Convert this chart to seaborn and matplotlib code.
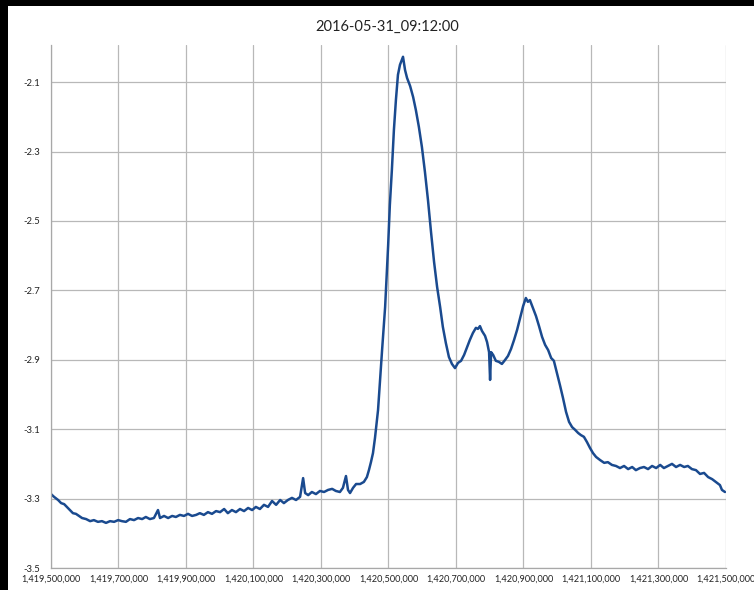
import matplotlib
matplotlib.use("Agg")
import matplotlib.pyplot as plt
import matplotlib.ticker as mticker
from matplotlib.patches import Rectangle
import numpy as np
import pandas as pd
import seaborn as sns

title = "2016-05-31_09:12:00"

freq_mhz = [
    1419.500, 1419.509, 1419.521, 1419.530, 1419.539, 1419.547, 1419.556, 1419.565, 1419.574, 1419.583,
    1419.592, 1419.604, 1419.616, 1419.627, 1419.639, 1419.651, 1419.663, 1419.675, 1419.687, 1419.699,
    1419.710, 1419.722, 1419.734, 1419.746, 1419.758, 1419.770, 1419.781, 1419.793, 1419.805, 1419.817,
    1419.823, 1419.835, 1419.847, 1419.859, 1419.870, 1419.882, 1419.894, 1419.906, 1419.918, 1419.930,
    1419.941, 1419.953, 1419.965, 1419.977, 1419.989, 1420.001, 1420.013, 1420.024, 1420.036, 1420.048,
    1420.060, 1420.072, 1420.084, 1420.096, 1420.107, 1420.119, 1420.131, 1420.143, 1420.155, 1420.167,
    1420.179, 1420.190, 1420.202, 1420.214, 1420.226, 1420.238, 1420.247, 1420.253, 1420.262, 1420.273,
    1420.285, 1420.297, 1420.309, 1420.321, 1420.333, 1420.344, 1420.356, 1420.365, 1420.374, 1420.380,
    1420.386, 1420.395, 1420.404, 1420.416, 1420.427, 1420.436, 1420.442, 1420.448, 1420.454, 1420.460,
    1420.469, 1420.475, 1420.481, 1420.490, 1420.499, 1420.504, 1420.510, 1420.516, 1420.522, 1420.528,
    1420.534, 1420.543, 1420.549, 1420.555, 1420.564, 1420.573, 1420.581, 1420.590, 1420.599, 1420.608,
    1420.617, 1420.626, 1420.635, 1420.644, 1420.653, 1420.661, 1420.670, 1420.679, 1420.688, 1420.697,
    1420.706, 1420.715, 1420.724, 1420.733, 1420.741, 1420.750, 1420.759, 1420.765, 1420.771, 1420.777,
    1420.786, 1420.792, 1420.798, 1420.801, 1420.804, 1420.810, 1420.818, 1420.827, 1420.836, 1420.845,
    1420.854, 1420.863, 1420.872, 1420.881, 1420.890, 1420.899, 1420.907, 1420.913, 1420.919, 1420.928,
    1420.937, 1420.946, 1420.955, 1420.964, 1420.973, 1420.982, 1420.990, 1420.999, 1421.008, 1421.017,
    1421.026, 1421.035, 1421.044, 1421.053, 1421.062, 1421.070, 1421.079, 1421.088, 1421.097, 1421.106,
    1421.115, 1421.127, 1421.139, 1421.150, 1421.162, 1421.174, 1421.186, 1421.198, 1421.210, 1421.222,
    1421.233, 1421.245, 1421.257, 1421.269, 1421.281, 1421.293, 1421.305, 1421.316, 1421.328, 1421.340,
    1421.352, 1421.364, 1421.376, 1421.387, 1421.399, 1421.411, 1421.423, 1421.435, 1421.447, 1421.459,
    1421.470, 1421.482, 1421.488, 1421.497,
]

power = [
    -3.287, -3.295, -3.304, -3.313, -3.316, -3.324, -3.333, -3.342, -3.344, -3.350,
    -3.356, -3.359, -3.365, -3.362, -3.367, -3.365, -3.370, -3.365, -3.367, -3.362,
    -3.365, -3.367, -3.359, -3.362, -3.356, -3.359, -3.353, -3.359, -3.356, -3.333,
    -3.356, -3.350, -3.356, -3.350, -3.353, -3.347, -3.350, -3.344, -3.350, -3.347,
    -3.342, -3.347, -3.339, -3.344, -3.336, -3.339, -3.330, -3.342, -3.333, -3.339,
    -3.330, -3.336, -3.327, -3.333, -3.324, -3.330, -3.318, -3.324, -3.307, -3.318,
    -3.304, -3.313, -3.304, -3.298, -3.304, -3.295, -3.241, -3.284, -3.290, -3.281,
    -3.287, -3.278, -3.281, -3.275, -3.272, -3.278, -3.281, -3.269, -3.235, -3.275,
    -3.284, -3.269, -3.258, -3.258, -3.252, -3.238, -3.218, -3.195, -3.169, -3.125,
    -3.045, -2.958, -2.872, -2.748, -2.569, -2.454, -2.353, -2.238, -2.151, -2.079,
    -2.050, -2.027, -2.065, -2.088, -2.111, -2.143, -2.180, -2.229, -2.287, -2.359,
    -2.440, -2.532, -2.618, -2.690, -2.748, -2.805, -2.852, -2.892, -2.912, -2.924,
    -2.909, -2.903, -2.886, -2.863, -2.843, -2.823, -2.808, -2.811, -2.803, -2.817,
    -2.831, -2.849, -2.878, -2.958, -2.878, -2.886, -2.903, -2.906, -2.912, -2.901,
    -2.889, -2.869, -2.843, -2.814, -2.780, -2.745, -2.722, -2.733, -2.728, -2.751,
    -2.774, -2.803, -2.834, -2.857, -2.872, -2.895, -2.903, -2.938, -2.973, -3.010,
    -3.050, -3.079, -3.094, -3.102, -3.111, -3.117, -3.122, -3.137, -3.154, -3.169,
    -3.180, -3.189, -3.197, -3.195, -3.203, -3.206, -3.212, -3.206, -3.215, -3.209,
    -3.218, -3.212, -3.209, -3.215, -3.206, -3.212, -3.203, -3.212, -3.206, -3.200,
    -3.209, -3.203, -3.209, -3.206, -3.215, -3.218, -3.229, -3.226, -3.238, -3.244,
    -3.252, -3.261, -3.275, -3.281,
]

x_ticks = [1419500000, 1419700000, 1419900000, 1420100000, 1420300000,
           1420500000, 1420700000, 1420900000, 1421100000, 1421300000, 1421500000]
y_ticks = [-3.5, -3.3, -3.1, -2.9, -2.7, -2.5, -2.3, -2.1]

df = pd.DataFrame({"freq": np.array(freq_mhz) * 1e6, "power": power})

sns.set_theme(style="whitegrid")
plt.rcParams["font.family"] = ["Lato", "DejaVu Sans"]

fig = plt.figure(figsize=(7.54, 5.90), dpi=100)
fig.patch.set_facecolor("black")
fig.patches.append(Rectangle((8 / 754, 0), 1, 1 - 6 / 590, transform=fig.transFigure,
                             facecolor="white", edgecolor="none", zorder=-10))

ax = fig.add_axes([51 / 754, 22 / 590, 675 / 754, 523 / 590])
sns.lineplot(data=df, x="freq", y="power", ax=ax, color="#1a4a8f", linewidth=1.8,
             estimator=None, sort=False)

ax.set_xlim(1419500000, 1421500000)
ax.set_ylim(-3.5, -1.993)
ax.set_xticks(x_ticks)
ax.set_yticks(y_ticks)
ax.xaxis.set_major_formatter(mticker.FuncFormatter(lambda v, p: f"{v:,.0f}"))
ax.yaxis.set_major_formatter(mticker.FuncFormatter(lambda v, p: f"{v:.1f}"))
ax.tick_params(axis="x", labelsize=6.6, pad=5, length=0, colors="#222222")
ax.tick_params(axis="y", labelsize=6.8, pad=8, length=0, colors="#222222")
ax.set_xlabel("")
ax.set_ylabel("")
ax.set_facecolor("white")
ax.grid(True, color="#b8b8b8", linewidth=0.9)
for side in ["top", "right"]:
    ax.spines[side].set_visible(False)
for side in ["left", "bottom"]:
    ax.spines[side].set_visible(True)
    ax.spines[side].set_color("#a8a8a8")
    ax.spines[side].set_linewidth(0.9)

fig.text(387 / 754, 1 - 27 / 590, title, ha="center", va="center", fontsize=10.5, color="#222222")

fig.savefig("out.png", dpi=100, facecolor=fig.get_facecolor())
